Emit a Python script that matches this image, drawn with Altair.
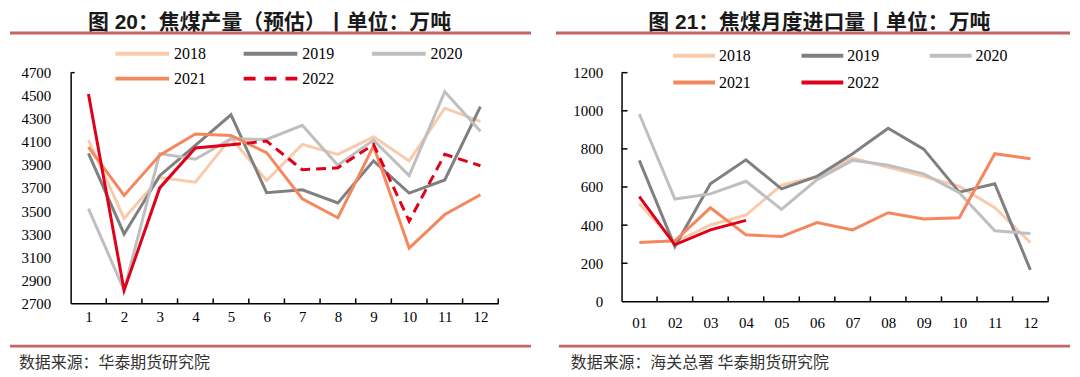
import altair as alt
import pandas as pd

months = list(range(1, 13))
years = ["2018", "2019", "2020", "2021", "2022"]
colors = ["#F8CBAD", "#808080", "#BFBFBF", "#F5875F", "#E0001A"]

# 图20 焦煤产量（预估）
prod = {
    "2018": [4115, 3436, 3790, 3750, 4135, 3765, 4078, 3992, 4144, 3935, 4392, 4278],
    "2019": [4001, 3302, 3807, 4070, 4335, 3659, 3684, 3570, 3935, 3656, 3770, 4406],
    "2020": [3522, 2815, 3998, 3950, 4127, 4121, 4244, 3898, 4115, 3807, 4535, 4192],
    "2021": [4055, 3636, 3984, 4169, 4155, 4007, 3607, 3442, 4064, 3179, 3470, 3642],
    "2022": [4515, 2814, 3701, 4047, 4075, 4107, 3858, 3875, 4078, 3413, 3992, 3893],
}
prod_solid_months = [1, 2, 3, 4, 5]
prod_ticks = [2700, 2900, 3100, 3300, 3500, 3700, 3900, 4100, 4300, 4500, 4700]

# 图21 焦煤月度进口量
imp = {
    "2018": [512, 309, 401, 453, 610, 656, 752, 703, 656, 604, 491, 309],
    "2019": [740, 288, 617, 743, 590, 656, 775, 908, 799, 573, 617, 165],
    "2020": [983, 537, 564, 630, 483, 639, 740, 714, 669, 570, 370, 356],
    "2021": [309, 318, 491, 349, 340, 413, 375, 465, 432, 439, 775, 748],
    "2022": [549, 297, 375, 425],
}
imp_ticks = [0, 200, 400, 600, 800, 1000, 1200]

left_title = "图 20：焦煤产量（预估）丨单位：万吨"
right_title = "图 21：焦煤月度进口量丨单位：万吨"
left_source = "数据来源：华泰期货研究院"
right_source = "数据来源：海关总署 华泰期货研究院"

SERIF = "Liberation Serif"
CJK = "Noto Sans CJK SC"
TITLE_FONT = "Liberation Sans, Noto Sans CJK SC"
RED = "#E0001A"
ACCENT = "#C46464"


def long_df(d, yrs, only=None):
    rows = []
    for y in yrs:
        for m, v in zip(months, d[y]):
            if only is None or m in only:
                rows.append({"month": m, "value": v, "year": y})
    return pd.DataFrame(rows)


def x_enc(two_digit, pad):
    expr = "(datum.value < 10 ? '0' : '') + datum.value" if two_digit else "'' + datum.value"
    return alt.X(
        "month:Q",
        scale=alt.Scale(domain=[0.5, 12.5], nice=False, zero=False),
        axis=alt.Axis(values=months, labelExpr=expr, ticks=False, tickSize=0,
                      labelPadding=pad, grid=False, title=None, domainColor="black",
                      domainWidth=1.5, labelFont=SERIF, labelFontSize=15,
                      labelColor="black", labelFlush=False, labelOverlap=False),
    )


def y_enc(domain, ticks, pad):
    return alt.Y(
        "value:Q",
        scale=alt.Scale(domain=domain, nice=False, zero=False),
        axis=alt.Axis(values=ticks, format="d", ticks=False, tickSize=0, labelPadding=pad,
                      grid=False, title=None, domainColor="black", domainWidth=1.5,
                      labelFont=SERIF, labelFontSize=15, labelColor="black",
                      labelFlush=False, labelOverlap=False),
    )


def txt(s, x, y, size, font, weight="normal", align="left", color="black"):
    return alt.Chart(pd.DataFrame({"t": [s]})).mark_text(
        align=align, baseline="middle", font=font, fontSize=size,
        fontWeight=weight, color=color,
    ).encode(text="t:N", x=alt.value(x), y=alt.value(y))


def hrule(x1, x2, y, color, width, dash=None):
    kw = dict(color=color, strokeWidth=width)
    if dash:
        kw["strokeDash"] = dash
    return alt.Chart(pd.DataFrame({"a": [0]})).mark_rule(**kw).encode(
        x=alt.value(x1), x2=alt.value(x2), y=alt.value(y))


def legend_layers(x0, step, row_y, sym_len, txt_off, dash22):
    out = []
    for i, (yr, col) in enumerate(zip(years, colors)):
        r, c = divmod(i, 3)
        sx = x0 + c * step
        sy = row_y[r]
        out.append(hrule(sx, sx + sym_len, sy, col, 4,
                         dash=[12, 9] if (yr == "2022" and dash22) else None))
        out.append(txt(yr, sx + sym_len + txt_off, sy, 16, SERIF))
    return out


def panel(data, dash_future, solid_months, domain, yticks, ytick_marks, ytick_len,
          w, h, two_digit, xpad, ypad, title, tx, ty, uy, ux1, ux2,
          fy, fx1, fx2, src, sx, sy, leg):
    X = x_enc(two_digit, xpad)
    Y = y_enc(domain, yticks, ypad)
    color = alt.Color("year:N", scale=alt.Scale(domain=years, range=colors), legend=None)
    layers = []
    base = long_df(data, ["2018", "2019", "2020", "2021"])
    layers.append(alt.Chart(base).mark_line(strokeWidth=3).encode(x=X, y=Y, color=color))
    d22 = data["2022"]
    solid = pd.DataFrame({"month": [m for m in months[:len(d22)] if m in solid_months],
                          "value": [v for m, v in zip(months, d22) if m in solid_months]})
    layers.append(alt.Chart(solid).mark_line(strokeWidth=3, color=RED).encode(x=X, y=Y))
    if dash_future:
        fut = pd.DataFrame({"month": [m for m in months[:len(d22)] if m >= solid_months[-1]],
                            "value": [v for m, v in zip(months, d22) if m >= solid_months[-1]]})
        layers.append(alt.Chart(fut).mark_line(strokeWidth=3, color=RED, strokeDash=[10, 6])
                      .encode(x=X, y=Y))
    # inward x ticks between months
    xt = pd.DataFrame({"month": [m + 0.5 for m in months]})
    layers.append(alt.Chart(xt).mark_rule(color="black", strokeWidth=1.5)
                  .encode(x=X, y=alt.value(h), y2=alt.value(h - 5)))
    # inward y ticks
    yt = pd.DataFrame({"value": ytick_marks})
    layers.append(alt.Chart(yt).mark_rule(color="black", strokeWidth=1.5)
                  .encode(y=Y, x=alt.value(0), x2=alt.value(ytick_len)))
    layers += legend_layers(*leg)
    layers.append(txt(title, tx, ty, 21, TITLE_FONT, weight="bold", align="center",
                      color="#1a1a1a"))
    layers.append(hrule(ux1, ux2, uy, ACCENT, 3))
    layers.append(hrule(fx1, fx2, fy, ACCENT, 3))
    layers.append(txt(src, sx, sy, 16, CJK, color="#333333"))
    return alt.layer(*layers).properties(width=w, height=h)


left = panel(prod, True, prod_solid_months, [2700, 4700], prod_ticks, [4700], 4,
             430, 232, False, 6, 20,
             left_title, 200, -50, -40, -61, 463,
             275, -61, 463, left_source, -52, 292,
             (45, 129, [-19, 6], 54, 5, True))

right = panel(imp, False, [1, 2, 3, 4], [0, 1200], imp_ticks,
              [200, 400, 600, 800, 1000, 1200], 6,
              429, 230, True, 14, 19,
              right_title, 199, -50, -40, -66, 451,
              275, -63, 451, right_source, -51, 292,
              (52, 129, [-17, 10], 42, 4, False))

chart = alt.hconcat(left, right, spacing=21).properties(
    padding={"top": 3, "left": 0, "right": 0, "bottom": 0}
).configure_view(stroke=None)
chart.save("out.html", embed_options={"renderer": "svg", "actions": False})
